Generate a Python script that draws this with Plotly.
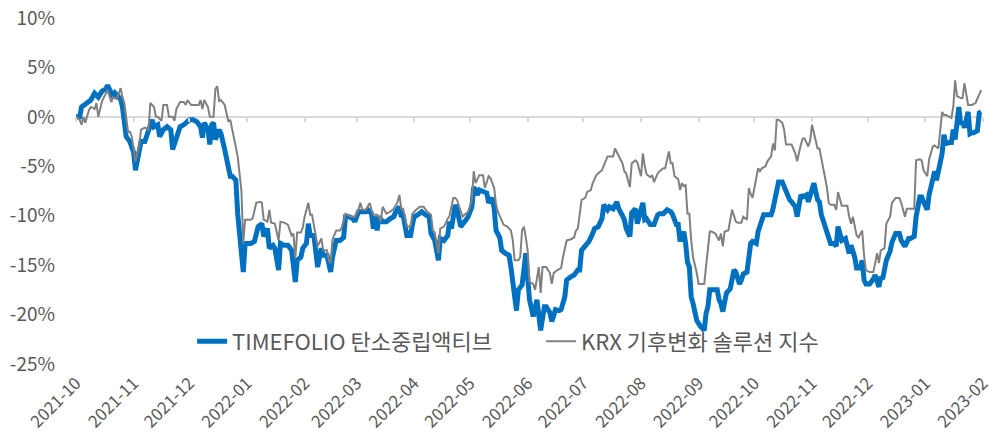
import plotly.graph_objects as go

# ---------------- data (cumulative return, %) ----------------
tf_dates = [
"2021-10-01","2021-10-03","2021-10-04","2021-10-07","2021-10-09","2021-10-11","2021-10-13","2021-10-15","2021-10-17","2021-10-18",
"2021-10-19","2021-10-21","2021-10-22","2021-10-24","2021-10-25","2021-10-26","2021-10-27","2021-10-28","2021-10-30","2021-11-01",
"2021-11-02","2021-11-04","2021-11-05","2021-11-07","2021-11-09","2021-11-11","2021-11-12","2021-11-14","2021-11-15","2021-11-17",
"2021-11-19","2021-11-21","2021-11-22","2021-11-24","2021-11-26","2021-11-28","2021-11-29","2021-12-01","2021-12-03","2021-12-05",
"2021-12-07","2021-12-08","2021-12-09","2021-12-11","2021-12-12","2021-12-13","2021-12-14","2021-12-15","2021-12-17","2021-12-18",
"2021-12-20","2021-12-22","2021-12-23","2021-12-24","2021-12-26","2021-12-27","2021-12-29","2021-12-30","2021-12-31","2022-01-03",
"2022-01-05","2022-01-07","2022-01-09","2022-01-10","2022-01-12","2022-01-13","2022-01-15","2022-01-16","2022-01-18","2022-01-19",
"2022-01-21","2022-01-23","2022-01-25","2022-01-27","2022-01-28","2022-01-30","2022-01-31","2022-02-02","2022-02-03","2022-02-04",
"2022-02-06","2022-02-07","2022-02-08","2022-02-10","2022-02-11","2022-02-13","2022-02-15","2022-02-16","2022-02-18","2022-02-20",
"2022-02-22","2022-02-23","2022-02-25","2022-02-27","2022-02-28","2022-03-02","2022-03-04","2022-03-06","2022-03-07","2022-03-09",
"2022-03-10","2022-03-11","2022-03-12","2022-03-13","2022-03-15","2022-03-17","2022-03-19","2022-03-21","2022-03-22","2022-03-24",
"2022-03-25","2022-03-26","2022-03-28","2022-03-30","2022-03-31","2022-04-01","2022-04-03","2022-04-05","2022-04-07","2022-04-09",
"2022-04-10","2022-04-12","2022-04-14","2022-04-15","2022-04-17","2022-04-19","2022-04-20","2022-04-21","2022-04-23","2022-04-24",
"2022-04-26","2022-04-27","2022-04-29","2022-04-30","2022-05-02","2022-05-03","2022-05-05","2022-05-06","2022-05-08","2022-05-10",
"2022-05-11","2022-05-13","2022-05-14","2022-05-15","2022-05-17","2022-05-18","2022-05-20","2022-05-22","2022-05-23","2022-05-24",
"2022-05-26","2022-05-27","2022-05-29","2022-05-30","2022-05-31","2022-06-01","2022-06-02","2022-06-04","2022-06-06","2022-06-08",
"2022-06-10","2022-06-11","2022-06-13","2022-06-14","2022-06-16","2022-06-18","2022-06-19","2022-06-21","2022-06-22","2022-06-24",
"2022-06-26","2022-06-28","2022-06-29","2022-06-30","2022-07-02","2022-07-04","2022-07-06","2022-07-07","2022-07-09","2022-07-11",
"2022-07-12","2022-07-14","2022-07-15","2022-07-17","2022-07-19","2022-07-20","2022-07-22","2022-07-23","2022-07-24","2022-07-26",
"2022-07-27","2022-07-29","2022-07-30","2022-08-01","2022-08-02","2022-08-03","2022-08-04","2022-08-06","2022-08-08","2022-08-10",
"2022-08-11","2022-08-13","2022-08-15","2022-08-17","2022-08-18","2022-08-20","2022-08-21","2022-08-22","2022-08-24","2022-08-25",
"2022-08-26","2022-08-27","2022-08-28","2022-08-29","2022-08-31","2022-09-02","2022-09-04","2022-09-05","2022-09-06","2022-09-07",
"2022-09-09","2022-09-11","2022-09-12","2022-09-13","2022-09-14","2022-09-16","2022-09-18","2022-09-19","2022-09-20","2022-09-21",
"2022-09-23","2022-09-24","2022-09-25","2022-09-27","2022-09-28","2022-09-29","2022-09-30","2022-10-02","2022-10-03","2022-10-05",
"2022-10-06","2022-10-08","2022-10-10","2022-10-11","2022-10-12","2022-10-13","2022-10-14","2022-10-16","2022-10-17","2022-10-18",
"2022-10-20","2022-10-21","2022-10-23","2022-10-24","2022-10-25","2022-10-26","2022-10-27","2022-10-29","2022-10-30","2022-11-01",
"2022-11-02","2022-11-04","2022-11-05","2022-11-06","2022-11-08","2022-11-10","2022-11-11","2022-11-13","2022-11-14","2022-11-15",
"2022-11-17","2022-11-19","2022-11-20","2022-11-21","2022-11-22","2022-11-24","2022-11-25","2022-11-27","2022-11-28","2022-11-29",
"2022-11-30","2022-12-02","2022-12-04","2022-12-05","2022-12-07","2022-12-08","2022-12-09","2022-12-10","2022-12-11","2022-12-13",
"2022-12-14","2022-12-16","2022-12-18","2022-12-19","2022-12-21","2022-12-23","2022-12-24","2022-12-26","2022-12-27","2022-12-29",
"2022-12-30","2022-12-31","2023-01-02","2023-01-03","2023-01-05","2023-01-06","2023-01-07","2023-01-09","2023-01-10","2023-01-11",
"2023-01-12","2023-01-14","2023-01-15","2023-01-16","2023-01-17","2023-01-19","2023-01-20","2023-01-21","2023-01-22","2023-01-24",
"2023-01-25","2023-01-26","2023-01-27","2023-01-29","2023-01-30","2023-01-31",
]
tf_values = [
0.0,0.0,1.0,1.5,1.7,2.4,2.0,2.6,2.8,3.2,
2.8,2.0,2.4,2.0,1.8,1.0,-0.3,-2.0,-2.5,-3.6,
-5.4,-3.6,-2.5,-2.5,-1.5,-0.3,-1.0,-0.8,-2.0,-1.3,
-1.0,-1.3,-3.3,-2.3,-1.0,-0.8,-0.6,-0.3,-0.3,-0.5,
-1.0,-2.1,-0.6,-1.3,-2.8,-0.8,-0.6,-2.3,-1.3,-1.7,
-3.3,-5.0,-6.0,-6.0,-6.4,-9.8,-13.8,-15.7,-12.8,-12.8,
-12.6,-11.1,-10.8,-12.1,-11.3,-13.3,-13.0,-13.3,-15.5,-12.8,
-13.0,-13.0,-13.5,-16.7,-14.5,-14.2,-13.3,-12.8,-10.8,-12.0,
-12.0,-13.6,-15.2,-13.3,-14.0,-14.0,-15.7,-14.2,-12.5,-12.5,
-12.2,-10.1,-10.1,-10.3,-10.6,-9.6,-9.6,-9.6,-9.4,-9.8,
-11.3,-10.1,-11.5,-10.1,-10.6,-10.6,-10.3,-10.1,-9.6,-9.1,
-10.1,-9.9,-12.0,-12.0,-10.9,-10.1,-9.9,-9.6,-9.9,-10.1,
-11.8,-12.5,-14.5,-12.3,-12.5,-12.0,-10.6,-11.3,-8.9,-9.4,
-11.1,-10.9,-10.4,-10.1,-9.1,-7.1,-7.9,-7.4,-7.6,-7.7,
-8.7,-8.2,-9.3,-11.5,-12.2,-13.5,-13.8,-14.0,-15.2,-16.9,
-19.6,-17.5,-17.0,-15.5,-13.8,-16.2,-18.5,-20.2,-18.5,-21.6,
-19.2,-19.2,-19.8,-20.7,-19.5,-19.6,-19.5,-18.2,-16.5,-16.2,
-16.0,-15.5,-15.5,-13.5,-13.0,-12.6,-11.8,-11.3,-11.1,-10.3,
-8.9,-9.4,-9.1,-9.3,-8.6,-9.3,-10.0,-10.4,-11.3,-12.1,
-9.7,-9.3,-10.8,-9.1,-8.7,-10.4,-10.3,-10.9,-10.9,-9.9,
-9.8,-9.8,-9.4,-9.6,-9.9,-10.9,-10.9,-12.6,-11.6,-12.8,
-14.7,-15.2,-18.2,-18.9,-20.6,-21.2,-21.6,-19.9,-19.2,-17.5,
-17.5,-17.5,-18.5,-18.9,-19.7,-17.8,-17.4,-16.5,-15.5,-15.7,
-16.9,-16.5,-15.9,-15.7,-14.2,-12.8,-12.6,-12.8,-11.6,-10.6,
-9.9,-9.9,-9.9,-9.3,-8.4,-7.9,-6.6,-6.6,-7.1,-7.4,
-8.4,-8.6,-9.1,-10.1,-8.6,-7.9,-8.1,-7.9,-8.6,-7.4,
-6.7,-8.4,-8.6,-9.9,-11.1,-12.5,-12.8,-12.8,-13.1,-11.1,
-12.5,-12.3,-13.0,-13.8,-13.0,-14.2,-15.3,-15.3,-14.5,-16.5,
-16.9,-16.9,-16.4,-16.0,-17.2,-16.2,-16.4,-15.5,-14.5,-13.6,
-12.7,-11.8,-11.8,-12.5,-13.1,-12.3,-12.3,-12.1,-10.1,-8.1,
-8.1,-8.6,-9.4,-7.9,-6.0,-5.5,-6.4,-4.7,-3.7,-1.8,
-2.7,-2.6,-2.6,-1.3,-2.3,1.0,-0.8,-0.5,-1.1,0.5,
-1.7,-1.6,-1.6,-1.4,0.4,0.5,
]

krx_dates = [
"2021-10-01","2021-10-03","2021-10-04","2021-10-05","2021-10-06","2021-10-08","2021-10-09","2021-10-11","2021-10-12","2021-10-13",
"2021-10-15","2021-10-17","2021-10-18","2021-10-20","2021-10-21","2021-10-23","2021-10-25","2021-10-26","2021-10-27","2021-10-29",
"2021-10-30","2021-10-31","2021-11-02","2021-11-04","2021-11-05","2021-11-07","2021-11-09","2021-11-10","2021-11-12","2021-11-13",
"2021-11-14","2021-11-16","2021-11-17","2021-11-19","2021-11-20","2021-11-22","2021-11-23","2021-11-24","2021-11-26","2021-11-28",
"2021-11-29","2021-11-30","2021-12-02","2021-12-04","2021-12-06","2021-12-07","2021-12-08","2021-12-09","2021-12-11","2021-12-12",
"2021-12-14","2021-12-15","2021-12-16","2021-12-17","2021-12-18","2021-12-20","2021-12-22","2021-12-23","2021-12-25","2021-12-27",
"2021-12-29","2021-12-30","2021-12-31","2022-01-03","2022-01-04","2022-01-06","2022-01-08","2022-01-09","2022-01-10","2022-01-12",
"2022-01-13","2022-01-14","2022-01-16","2022-01-18","2022-01-19","2022-01-21","2022-01-23","2022-01-25","2022-01-26","2022-01-27",
"2022-01-28","2022-01-30","2022-01-31","2022-02-01","2022-02-03","2022-02-04","2022-02-05","2022-02-07","2022-02-08","2022-02-10",
"2022-02-11","2022-02-13","2022-02-14","2022-02-15","2022-02-16","2022-02-18","2022-02-20","2022-02-21","2022-02-23","2022-02-25",
"2022-02-26","2022-02-28","2022-03-02","2022-03-03","2022-03-04","2022-03-06","2022-03-07","2022-03-08","2022-03-09","2022-03-10",
"2022-03-12","2022-03-13","2022-03-14","2022-03-15","2022-03-17","2022-03-19","2022-03-21","2022-03-23","2022-03-24","2022-03-25",
"2022-03-26","2022-03-28","2022-03-30","2022-03-31","2022-04-02","2022-04-04","2022-04-06","2022-04-08","2022-04-10","2022-04-11",
"2022-04-12","2022-04-14","2022-04-15","2022-04-17","2022-04-19","2022-04-20","2022-04-22","2022-04-23","2022-04-24","2022-04-26",
"2022-04-27","2022-04-28","2022-04-30","2022-05-02","2022-05-03","2022-05-04","2022-05-06","2022-05-08","2022-05-09","2022-05-11",
"2022-05-12","2022-05-14","2022-05-15","2022-05-16","2022-05-18","2022-05-19","2022-05-21","2022-05-23","2022-05-24","2022-05-25",
"2022-05-27","2022-05-28","2022-05-29","2022-05-30","2022-05-31","2022-06-01","2022-06-02","2022-06-04","2022-06-05","2022-06-07",
"2022-06-08","2022-06-09","2022-06-11","2022-06-13","2022-06-14","2022-06-15","2022-06-17","2022-06-19","2022-06-20","2022-06-22",
"2022-06-24","2022-06-26","2022-06-27","2022-06-28","2022-06-30","2022-07-02","2022-07-03","2022-07-05","2022-07-06","2022-07-08",
"2022-07-09","2022-07-11","2022-07-12","2022-07-14","2022-07-15","2022-07-17","2022-07-18","2022-07-20","2022-07-22","2022-07-23",
"2022-07-24","2022-07-26","2022-07-27","2022-07-29","2022-07-30","2022-08-01","2022-08-02","2022-08-03","2022-08-04","2022-08-06",
"2022-08-07","2022-08-08","2022-08-10","2022-08-11","2022-08-13","2022-08-14","2022-08-16","2022-08-17","2022-08-18","2022-08-19",
"2022-08-21","2022-08-22","2022-08-23","2022-08-24","2022-08-25","2022-08-26","2022-08-27","2022-08-28","2022-08-29","2022-08-31",
"2022-09-01","2022-09-04","2022-09-06","2022-09-07","2022-09-08","2022-09-10","2022-09-12","2022-09-13","2022-09-14","2022-09-15",
"2022-09-17","2022-09-18","2022-09-19","2022-09-21","2022-09-22","2022-09-24","2022-09-25","2022-09-27","2022-09-28","2022-09-29",
"2022-09-30","2022-10-01","2022-10-03","2022-10-04","2022-10-05","2022-10-07","2022-10-08","2022-10-10","2022-10-11","2022-10-12",
"2022-10-13","2022-10-14","2022-10-16","2022-10-17","2022-10-18","2022-10-20","2022-10-21","2022-10-23","2022-10-24","2022-10-26",
"2022-10-27","2022-10-28","2022-10-30","2022-10-31","2022-11-01","2022-11-02","2022-11-04","2022-11-05","2022-11-06","2022-11-08",
"2022-11-09","2022-11-10","2022-11-11","2022-11-13","2022-11-14","2022-11-15","2022-11-17","2022-11-19","2022-11-20","2022-11-21",
"2022-11-22","2022-11-23","2022-11-25","2022-11-26","2022-11-28","2022-11-29","2022-11-30","2022-12-02","2022-12-04","2022-12-05",
"2022-12-06","2022-12-07","2022-12-08","2022-12-10","2022-12-11","2022-12-13","2022-12-14","2022-12-16","2022-12-18","2022-12-19",
"2022-12-21","2022-12-22","2022-12-24","2022-12-26","2022-12-27","2022-12-29","2022-12-30","2022-12-31","2023-01-02","2023-01-03",
"2023-01-05","2023-01-06","2023-01-08","2023-01-09","2023-01-10","2023-01-11","2023-01-12","2023-01-14","2023-01-15","2023-01-16",
"2023-01-17","2023-01-18","2023-01-20","2023-01-21","2023-01-22","2023-01-24","2023-01-25","2023-01-26","2023-01-28","2023-01-29",
"2023-01-31",
]
krx_values = [
0.0,-0.3,-0.8,0.0,-0.6,0.7,1.0,0.8,1.4,0.0,
1.6,2.4,2.7,1.5,2.0,1.8,2.9,2.0,1.4,-1.5,
-1.5,-2.0,-4.5,-2.9,-1.3,-1.1,-1.3,1.4,1.0,0.0,
0.0,-0.4,1.2,1.2,0.0,0.0,-0.4,0.8,1.5,1.5,
1.2,1.7,1.2,1.2,1.2,1.7,0.8,1.7,1.0,0.0,
0.0,2.8,3.1,1.6,1.7,1.2,-0.5,-0.3,-2.2,-4.0,
-7.5,-12.8,-10.4,-10.4,-10.3,-8.7,-8.6,-8.7,-10.4,-10.6,
-9.4,-10.7,-10.8,-12.5,-10.6,-10.7,-10.9,-12.0,-11.8,-14.3,
-11.7,-11.7,-11.2,-10.1,-8.7,-9.9,-9.9,-12.0,-13.1,-12.3,
-13.5,-13.5,-14.5,-14.8,-12.4,-11.5,-11.5,-11.2,-9.8,-10.0,
-10.1,-10.1,-9.4,-8.7,-9.4,-9.4,-9.1,-8.7,-9.4,-9.9,
-9.9,-10.1,-10.6,-9.1,-9.8,-9.6,-9.3,-8.6,-7.9,-9.3,
-9.3,-11.1,-11.1,-9.8,-9.4,-9.1,-9.1,-9.6,-9.9,-11.5,
-11.7,-13.8,-11.3,-11.1,-10.3,-10.0,-8.2,-8.2,-8.4,-9.6,
-10.1,-9.9,-9.6,-8.4,-5.5,-6.7,-5.9,-5.9,-7.2,-6.0,
-6.2,-7.2,-8.9,-9.6,-10.6,-10.9,-11.1,-11.5,-12.5,-14.5,
-14.5,-14.2,-11.5,-11.1,-12.2,-13.5,-16.7,-16.9,-17.5,-15.2,
-17.8,-15.2,-15.2,-15.8,-16.9,-15.8,-15.5,-15.3,-14.2,-12.5,
-12.4,-12.2,-11.5,-11.3,-8.4,-8.2,-7.6,-7.4,-6.7,-5.9,
-5.7,-5.4,-4.9,-4.0,-4.0,-4.0,-3.2,-4.0,-4.7,-5.5,
-5.7,-7.1,-4.7,-4.4,-4.6,-6.0,-3.7,-5.0,-5.8,-6.1,
-5.9,-6.6,-5.7,-5.5,-5.2,-5.2,-3.5,-4.7,-4.7,-6.0,
-6.3,-7.4,-6.7,-7.0,-6.9,-9.8,-9.8,-12.5,-14.2,-15.8,
-16.9,-16.9,-13.5,-11.6,-11.6,-11.8,-12.5,-11.8,-13.1,-11.6,
-11.5,-10.3,-9.4,-10.6,-10.7,-10.7,-10.1,-10.4,-7.2,-7.8,
-8.2,-7.2,-5.2,-5.5,-5.2,-5.0,-4.5,-4.0,-2.7,-3.4,
-0.3,-0.3,-0.6,-1.3,-2.8,-2.8,-2.8,-3.7,-4.5,-2.8,
-2.2,-2.2,-3.0,-2.4,-0.8,-1.6,-3.2,-3.2,-4.2,-6.0,
-7.1,-8.7,-8.9,-8.9,-9.4,-7.6,-9.0,-9.0,-9.0,-10.1,
-10.8,-10.1,-12.0,-12.2,-11.5,-14.0,-15.5,-15.7,-15.7,-14.8,
-13.8,-14.8,-13.5,-13.3,-10.8,-10.1,-8.7,-8.2,-8.2,-8.7,
-10.1,-9.3,-9.3,-9.3,-4.4,-4.3,-4.4,-5.4,-6.0,-4.3,
-3.0,-2.9,-3.2,-1.5,0.5,0.2,0.2,0.0,-0.1,1.0,
3.7,2.1,1.9,1.9,3.4,1.2,1.2,1.2,1.4,1.9,
2.7,
]

series_names = ["TIMEFOLIO 탄소중립액티브", "KRX 기후변화 솔루션 지수"]
y_tick_values = [10, 5, 0, -5, -10, -15, -20, -25]
y_tick_labels = ["10%", "5%", "0%", "-5%", "-10%", "-15%", "-20%", "-25%"]
x_start, x_end = "2021-10-01", "2023-02-01"

FONT = "Noto Sans CJK KR, Noto Sans, sans-serif"
TXT = "#595959"

fig = go.Figure()
fig.add_trace(go.Scatter(
    x=tf_dates, y=tf_values, mode="lines", name=series_names[0],
    line=dict(color="#0070C0", width=5), xaxis="x", yaxis="y"))
fig.add_trace(go.Scatter(
    x=krx_dates, y=krx_values, mode="lines", name=series_names[1],
    line=dict(color="#808080", width=2), xaxis="x2", yaxis="y"))

fig.update_layout(
    width=993, height=437,
    margin=dict(l=76, r=10, t=18, b=73),
    paper_bgcolor="white", plot_bgcolor="white",
    font=dict(family=FONT, color=TXT, size=17),
    showlegend=True,
    legend=dict(orientation="h", x=0.128, y=0.065, xanchor="left", yanchor="middle",
                font=dict(size=22, color=TXT, family=FONT), bgcolor="rgba(0,0,0,0)",
                itemwidth=30, entrywidth=304, entrywidthmode="pixels"),
    xaxis=dict(type="date", range=[x_start, x_end], dtick="M1", tick0=x_start,
               tickformat="%Y-%m", tickangle=-45, showgrid=False, zeroline=False,
               showline=False, ticks="", automargin=False, ticklabelstandoff=5,
               tickfont=dict(size=17, color=TXT)),
    xaxis2=dict(type="date", matches="x", overlaying="x", anchor="free", position=25/35,
                side="bottom", dtick="M1", tick0=x_start, showticklabels=False,
                showgrid=False, zeroline=False, showline=False, automargin=False,
                ticks="outside", ticklen=4, tickwidth=1.5, tickcolor="#D9D9D9"),
    yaxis=dict(range=[-25, 10], tickvals=y_tick_values, ticktext=y_tick_labels,
               showgrid=False, zeroline=True, zerolinecolor="#D9D9D9", zerolinewidth=2,
               showline=False, ticks="", ticklabelstandoff=20, automargin=False,
               tickfont=dict(size=19, color=TXT)),
)

fig.write_html("out.html", config={"displayModeBar": False},
               post_script="document.body.style.margin='0';document.body.style.overflow='hidden';")
